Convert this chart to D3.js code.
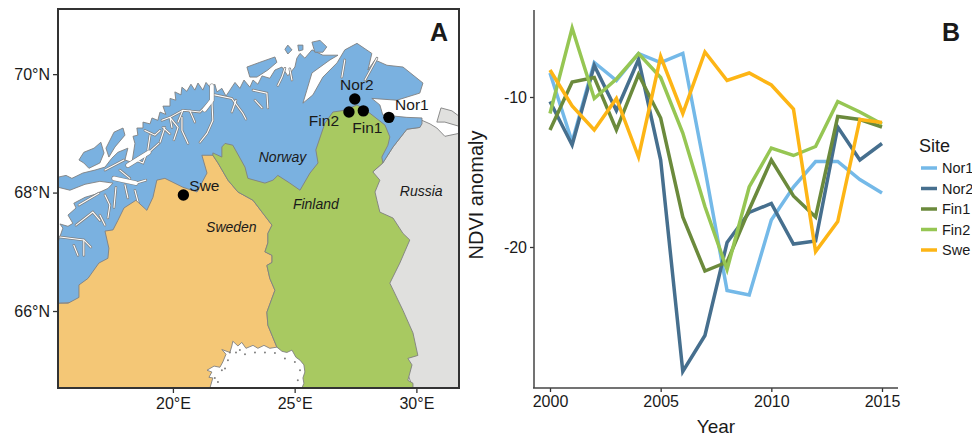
<!DOCTYPE html>
<html>
<head>
<meta charset="utf-8">
<script src="https://cdn.jsdelivr.net/npm/d3@7"></script>
<style>
  html, body { margin: 0; padding: 0; background: #fff; overflow: hidden; }
  text { font-family: "Liberation Sans", Arial, sans-serif; fill: #1a1a1a; }
</style>
</head>
<body>
<svg id="fig" width="972" height="436"></svg>
<script>
// ---- panel B data ----
const years = [2000,2001,2002,2003,2004,2005,2006,2007,2008,2009,2010,2011,2012,2013,2014,2015];
const nor1 = [-8.4,-13.0,-7.7,-8.9,-7.1,-7.7,-7.1,-14.8,-22.9,-23.2,-18.2,-16.0,-14.3,-14.3,-15.5,-16.4];
const nor2 = [-10.3,-13.2,-7.9,-10.9,-7.5,-14.2,-28.3,-25.9,-19.7,-17.7,-17.1,-19.8,-19.6,-12.0,-14.2,-13.1];
const fin1 = [-12.2,-9.0,-8.7,-12.2,-8.5,-11.4,-18.0,-21.6,-21.0,-17.5,-14.2,-16.6,-18.0,-11.3,-11.5,-12.0];
const fin2 = [-11.1,-5.4,-10.1,-8.8,-7.1,-8.7,-12.4,-17.3,-21.5,-16.0,-13.4,-13.9,-13.3,-10.3,-11.0,-11.8];
const swe = [-8.2,-10.6,-12.2,-10.1,-14.0,-7.3,-11.1,-7.0,-8.9,-8.4,-9.2,-10.8,-20.3,-18.3,-11.5,-11.7];
const siteNames = ["Nor1","Nor2","Fin1","Fin2","Swe"];
const siteValues = [nor1,nor2,fin1,fin2,swe];
const siteColors = ["#74b9e8","#466f8e","#6b8a3c","#96c653","#fdb515"];
const yearTicks = [2000,2005,2010,2015];
const ndviTicks = [-10,-20];

// ---- panel A data, all [lon, lat] ----
const lonTicks = [20,25,30];
const latTicks = [66,68,70];
const norway = [[15.28,66.13],[15.28,67.16],[15.48,67.40],[15.36,67.47],[15.69,67.43],[15.89,67.48],[15.69,67.62],[16.02,67.74],[15.93,67.82],[16.39,67.92],[16.80,67.97],[17.33,68.07],[17.54,68.16],[17.00,68.19],[16.39,68.14],[15.77,68.04],[15.28,68.09],[15.28,68.26],[15.61,68.29],[15.85,68.24],[16.30,68.33],[16.80,68.38],[17.21,68.43],[17.49,68.58],[17.74,68.68],[18.15,68.75],[18.03,68.55],[18.32,68.51],[18.44,68.83],[18.36,68.95],[18.56,68.97],[18.52,69.09],[18.77,69.09],[18.77,69.19],[19.06,69.16],[19.14,69.26],[19.38,69.22],[19.47,69.36],[19.71,69.32],[19.59,69.46],[19.88,69.46],[19.88,69.59],[20.12,69.56],[20.08,69.70],[20.33,69.65],[20.37,69.78],[20.57,69.71],[20.74,69.83],[20.90,69.73],[21.03,69.85],[21.23,69.73],[21.36,69.86],[21.56,69.76],[21.72,69.83],[21.81,69.70],[22.01,69.76],[22.18,69.63],[22.34,69.73],[22.55,69.86],[22.75,69.76],[22.92,69.90],[23.16,69.78],[23.29,69.90],[23.49,69.83],[23.66,69.97],[23.98,69.93],[24.19,70.07],[24.48,70.12],[24.72,69.97],[25.01,70.12],[25.09,70.27],[25.22,70.35],[25.42,70.27],[25.71,70.41],[26.16,70.32],[26.78,70.32],[26.45,70.24],[25.71,70.02],[25.50,69.73],[25.34,69.51],[25.75,69.65],[26.16,69.95],[26.74,70.19],[27.06,70.41],[27.56,70.52],[28.17,70.35],[28.01,70.07],[28.30,70.24],[28.79,70.15],[29.45,70.12],[30.27,69.85],[30.14,69.68],[29.20,69.56],[28.17,69.59],[28.50,69.48],[28.62,69.31],[29.61,69.27],[30.23,69.26],[30.23,69.16],[30.14,69.10],[29.61,69.07],[29.04,68.77],[28.62,68.50],[28.09,68.46],[25.22,67.87],[19.06,67.20],[17.00,66.18]];
const swedenFinlandBorder = [[21.64,68.63],[21.85,68.50],[22.26,68.21],[22.67,68.01],[23.29,67.87],[23.66,67.67],[24.07,67.45],[23.90,67.31],[23.90,67.15],[23.78,67.00],[24.07,66.94],[24.07,66.82],[23.86,66.77],[23.98,66.55],[24.19,66.35],[23.86,65.98],[23.90,65.76],[24.27,65.39],[24.39,64.70]];
const swedenWest = [[15.28,64.70],[15.28,66.13],[15.69,66.13],[16.14,66.23],[16.14,66.44],[16.51,66.55],[16.96,66.81],[17.33,66.89],[17.37,67.06],[17.21,67.35],[17.54,67.37],[17.74,67.53],[17.99,67.74],[18.48,67.87],[18.93,67.70],[19.18,67.92],[19.34,68.21],[19.67,68.24],[20.41,68.09],[20.99,68.01],[21.40,68.33],[21.19,68.63]];
const finlandNorthEast = [[22.01,68.60],[22.01,68.77],[22.14,68.83],[22.46,68.80],[22.96,68.43],[23.08,68.24],[23.78,68.16],[24.11,68.21],[24.31,68.29],[24.80,68.16],[25.22,68.04],[25.63,68.33],[25.96,68.50],[25.87,68.72],[26.24,69.17],[26.57,69.36],[27.06,69.39],[27.56,69.48],[28.09,69.34],[28.71,69.14],[28.91,68.94],[28.83,68.80],[28.58,68.60],[28.62,68.50],[28.21,68.35],[28.50,68.21],[28.30,68.01],[28.38,67.87],[28.50,67.67],[29.04,67.57],[29.45,67.31],[29.73,67.20],[29.32,66.81],[28.91,66.47],[29.45,66.01],[29.86,65.63],[30.06,65.25],[29.65,65.20],[29.82,65.09],[29.65,64.83],[29.86,64.78],[29.86,64.70]];
const russia = [[30.23,69.22],[30.56,69.16],[30.84,69.09],[31.17,68.95],[31.75,69.00],[31.75,64.70],[29.86,64.70],[28.50,66.18],[28.21,68.35],[28.62,68.50],[29.04,68.77],[29.61,69.07],[30.14,69.10]];
const rybachy = [[30.84,69.19],[31.01,69.43],[31.46,69.38],[31.75,69.29],[31.75,69.12],[31.17,69.19]];
const islands = [
  [[16.14,68.55],[16.34,68.68],[16.76,68.75],[17.04,68.85],[17.17,68.67],[17.00,68.50],[16.55,68.41],[16.34,68.50]],
  [[17.25,68.75],[17.58,69.02],[17.95,69.09],[18.03,68.97],[17.62,68.77],[17.37,68.60]],
  [[23.04,70.12],[23.57,70.20],[24.19,70.29],[24.27,70.20],[23.90,70.07],[23.45,69.95],[23.16,69.95]],
  [[25.71,70.54],[26.04,70.57],[26.32,70.46],[26.16,70.37],[25.83,70.37]],
  [[25.13,70.49],[25.34,70.49],[25.34,70.41],[25.17,70.39]],
  [[24.72,70.49],[24.89,70.41],[24.72,70.34],[24.60,70.42]]
];
const wideFjords = [
  [[21.60,69.80],[21.60,69.56],[21.30,69.40]],
  [[18.15,68.46],[19.01,68.68]],
  [[17.58,68.24],[18.48,68.16]]
];
const fjords = [
  [[21.60,69.56],[21.11,69.36],[20.41,69.39],[19.88,69.27],[19.55,69.22]],
  [[21.60,69.56],[21.64,69.22],[21.40,69.00],[21.11,68.85]],
  [[21.72,69.65],[22.42,69.59],[22.87,69.34],[23.00,69.24]],
  [[23.29,69.73],[23.86,69.68],[23.90,69.43]],
  [[19.88,69.27],[19.96,69.10]],
  [[19.67,69.10],[19.47,68.85]],
  [[20.37,69.27],[20.37,69.05],[20.62,68.83]],
  [[19.01,68.68],[19.42,68.83]],
  [[18.48,68.55],[18.77,68.50],[18.89,68.63]],
  [[18.48,68.16],[18.89,68.21]],
  [[17.66,68.09],[17.58,67.75]],
  [[16.96,67.99],[16.14,67.79]],
  [[17.21,68.38],[17.99,68.55]],
  [[16.02,67.45],[16.71,67.67],[17.00,67.53]],
  [[15.36,67.25],[16.34,67.20],[16.63,67.08]],
  [[16.34,67.20],[16.34,66.94]],
  [[27.06,70.24],[26.94,69.95]],
  [[28.38,70.27],[27.89,69.90]],
  [[24.60,70.10],[24.48,69.95],[24.31,69.81]],
  [[24.80,70.09],[24.89,69.90]],
  [[20.41,69.39],[20.21,69.19]],
  [[20.70,69.38],[20.90,69.19]],
  [[19.88,69.27],[20.21,69.10],[20.04,68.89]],
  [[19.59,69.10],[19.88,68.99]],
  [[18.85,69.05],[19.26,68.97],[19.47,69.05]],
  [[19.06,68.97],[18.97,68.72]],
  [[17.82,68.38],[18.23,68.24]],
  [[18.03,68.13],[18.15,67.91]],
  [[18.44,68.04],[18.60,67.79]],
  [[17.21,67.96],[17.41,67.79],[17.33,67.57]],
  [[22.59,69.56],[22.42,69.36]],
  [[23.37,69.56],[23.66,69.43]],
  [[17.00,67.62],[17.21,67.45]],
  [[15.93,67.11],[16.10,66.94]]
];
const gulf = [[24.27,65.39],[24.48,65.32],[24.68,65.30],[24.89,65.34],[25.05,65.22],[25.22,65.17],[25.38,65.09],[25.42,64.97],[25.34,64.87],[25.38,64.78],[25.30,64.70],[21.52,64.70],[21.64,64.87],[21.48,64.88],[21.60,64.97],[21.40,65.00],[21.69,65.07],[21.93,65.05],[22.05,65.14],[22.18,65.27],[22.01,65.35],[22.34,65.30],[22.42,65.41],[22.46,65.49],[22.67,65.41],[22.83,65.47],[23.00,65.37],[23.29,65.42],[23.49,65.37],[23.74,65.42],[23.98,65.37]];
const gulfSkerries = [[21.72,64.87],[22.01,65.00],[22.26,65.17],[22.59,65.30],[22.96,65.27],[23.37,65.30],[23.78,65.30],[24.19,65.29],[24.60,65.20],[25.01,65.14],[25.22,65.00],[25.13,64.83],[21.85,64.80],[22.34,65.30],[22.75,65.34],[22.14,65.03]];
const sites = [
  {name:"Swe", lon:20.43, lat:67.96, dx:21, dy:-4},
  {name:"Nor2", lon:27.47, lat:69.58, dx:2, dy:-9},
  {name:"Fin2", lon:27.23, lat:69.36, dx:-25, dy:14},
  {name:"Fin1", lon:27.82, lat:69.38, dx:4, dy:22},
  {name:"Nor1", lon:28.87, lat:69.27, dx:23, dy:-7}
];
const countries = [
  {name:"Norway", lon:24.50, lat:68.52},
  {name:"Finland", lon:25.87, lat:67.72},
  {name:"Sweden", lon:22.40, lat:67.33},
  {name:"Russia", lon:30.20, lat:67.95}
];

const svg = d3.select("#fig");

// map panel
const mapX = d3.scaleLinear().domain([15.28,31.75]).range([58,459]);
const mapY = d3.scaleLinear().domain([71.10,64.70]).range([9,388]);
const ring = d3.line().x(d => mapX(d[0])).y(d => mapY(d[1]));

svg.append("defs").append("clipPath").attr("id","mapclip")
  .append("rect").attr("x",58).attr("y",9).attr("width",401).attr("height",379);

const land = svg.append("g").attr("clip-path","url(#mapclip)");
function poly(coords, fill) {
  land.append("path").attr("d", ring(coords) + "Z")
    .attr("fill", fill).attr("stroke","#808080").attr("stroke-width",0.9).attr("stroke-linejoin","round");
}
function strokeAll(list, color, width) {
  list.forEach(d => {
    land.append("path").attr("d", ring(d)).attr("fill","none")
      .attr("stroke",color).attr("stroke-width",width).attr("stroke-linecap","round");
  });
}
poly(russia, "#e0e0de");
poly(rybachy, "#e0e0de");
poly(norway, "#7ab1e0");
islands.forEach(d => poly(d, "#7ab1e0"));

strokeAll(wideFjords, "#808080", 5);
strokeAll(fjords, "#808080", 2.6);
strokeAll(wideFjords, "#fff", 3.8);
strokeAll(fjords, "#fff", 1.1);

poly(swedenWest.concat(swedenFinlandBorder), "#f4c776");
poly([[21.64,68.67]].concat(finlandNorthEast, swedenFinlandBorder.slice().reverse()), "#a8c961");
poly(gulf, "#fff");
land.selectAll("circle").data(gulfSkerries).enter().append("circle")
  .attr("cx", d => mapX(d[0])).attr("cy", d => mapY(d[1])).attr("r",1).attr("fill","#808080");

svg.append("rect").attr("x",58).attr("y",9).attr("width",401).attr("height",379)
  .attr("fill","none").attr("stroke","#333").attr("stroke-width",2);

const mapAxisBottom = d3.axisBottom(mapX).tickValues(lonTicks).tickSize(5).tickPadding(5).tickFormat(d => d + "°E");
const mapAxisLeft = d3.axisLeft(mapY).tickValues(latTicks).tickSize(5).tickPadding(3).tickFormat(d => d + "°N");
const gb = svg.append("g").attr("transform","translate(0,388)").call(mapAxisBottom);
const gl = svg.append("g").attr("transform","translate(58,0)").call(mapAxisLeft);
[gb,gl].forEach(g => {
  g.select(".domain").remove();
  g.selectAll("line").attr("stroke","#333").attr("stroke-width",1.3);
  g.selectAll("text").attr("font-size",16).attr("font-family","Liberation Sans").attr("fill","#1a1a1a");
});

svg.selectAll("text.country").data(countries).enter().append("text")
  .attr("class","country")
  .attr("x", d => mapX(d.lon)).attr("y", d => mapY(d.lat))
  .attr("text-anchor","middle").attr("font-size",14).attr("font-style","italic").text(d => d.name);

svg.selectAll("circle.site").data(sites).enter().append("circle")
  .attr("class","site")
  .attr("cx", d => mapX(d.lon)).attr("cy", d => mapY(d.lat)).attr("r",5.7).attr("fill","#000");
svg.selectAll("text.site").data(sites).enter().append("text")
  .attr("class","site")
  .attr("x", d => mapX(d.lon) + d.dx).attr("y", d => mapY(d.lat) + d.dy)
  .attr("text-anchor","middle").attr("font-size",15.5).text(d => d.name);

svg.append("text").attr("x",439).attr("y",41).attr("text-anchor","middle")
  .attr("font-size",25).attr("font-weight","bold").attr("fill","#000").text("A");
svg.append("text").attr("x",951).attr("y",41).attr("text-anchor","middle")
  .attr("font-size",25).attr("font-weight","bold").attr("fill","#000").text("B");

// time series panel
const x = d3.scaleLinear().domain([2000,2015]).range([550,882]);
const y = d3.scaleLinear().domain([-10,-20]).range([97,247]);
const line = d3.line().x((d,i) => x(years[i])).y(d => y(d));

siteValues.forEach((vals,i) => {
  svg.append("path").attr("d", line(vals)).attr("fill","none")
    .attr("stroke", siteColors[i]).attr("stroke-width",3.5).attr("stroke-linejoin","miter");
});

const gx = svg.append("g").attr("transform","translate(0,388)")
  .call(d3.axisBottom(x).tickValues(yearTicks).tickSize(4).tickPadding(4).tickFormat(d3.format("d")));
const gy = svg.append("g").attr("transform","translate(534,0)")
  .call(d3.axisLeft(y).tickValues(ndviTicks).tickSize(4).tickPadding(3).tickFormat(d => "-" + Math.abs(d)));
[gx,gy].forEach(g => {
  g.select(".domain").remove();
  g.selectAll("line").attr("stroke","#333").attr("stroke-width",1.3);
  g.selectAll("text").attr("font-size",16).attr("font-family","Liberation Sans").attr("fill","#1a1a1a");
});
svg.append("line").attr("x1",534).attr("x2",534).attr("y1",10).attr("y2",388).attr("stroke","#444").attr("stroke-width",1.5);
svg.append("line").attr("x1",533).attr("x2",898).attr("y1",388).attr("y2",388).attr("stroke","#444").attr("stroke-width",1.5);

svg.append("text").attr("x",716).attr("y",433).attr("text-anchor","middle").attr("font-size",19).text("Year");
svg.append("text").attr("transform","translate(483,195) rotate(-90)").attr("text-anchor","middle")
  .attr("font-size",20).text("NDVI anomaly");

// legend
svg.append("text").attr("x",919).attr("y",152).attr("font-size",18).text("Site");
const legendY = d3.scalePoint().domain(siteNames).range([168,250]);
siteNames.forEach((n,i) => {
  svg.append("line").attr("x1",921).attr("x2",937).attr("y1",legendY(n)).attr("y2",legendY(n))
    .attr("stroke",siteColors[i]).attr("stroke-width",3.5);
  svg.append("text").attr("x",942).attr("y",legendY(n)+5).attr("font-size",14.5).text(n);
});
</script>
</body>
</html>
